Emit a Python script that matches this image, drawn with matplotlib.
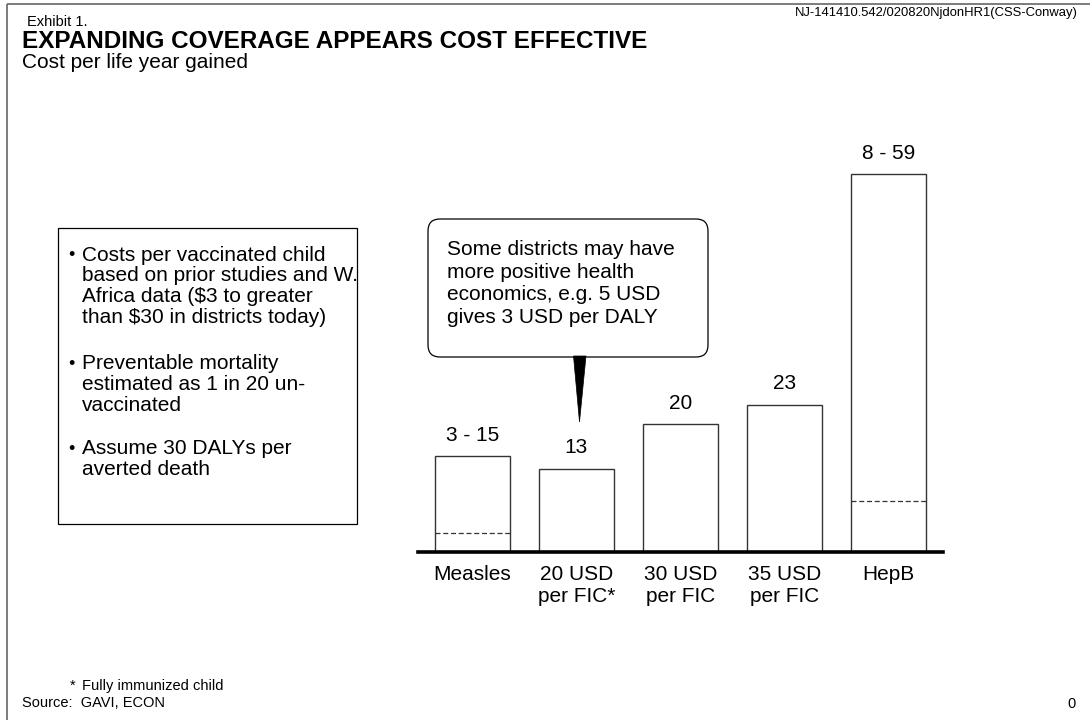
import matplotlib
matplotlib.use("Agg")
import matplotlib.pyplot as plt
from matplotlib.patches import FancyBboxPatch, Rectangle, Polygon
import numpy as np

# ---- data -------------------------------------------------------------
categories = ["Measles", "20 USD\nper FIC*", "30 USD\nper FIC", "35 USD\nper FIC", "HepB"]
high_values = [15, 13, 20, 23, 59]
low_values = [3, None, None, None, 8]          # lower end of a range, if any
value_labels = ["3 - 15", "13", "20", "23", "8 - 59"]

bullets = [
    "Costs per vaccinated child\nbased on prior studies and W.\nAfrica data ($3 to greater\nthan $30 in districts today)",
    "Preventable mortality\nestimated as 1 in 20 un-\nvaccinated",
    "Assume 30 DALYs per\naverted death",
]
callout_text = "Some districts may have\nmore positive health\neconomics, e.g. 5 USD\ngives 3 USD per DALY"

# ---- figure -----------------------------------------------------------
W, H = 1090, 720
plt.rcParams["font.family"] = ["Liberation Sans", "DejaVu Sans"]
fig = plt.figure(figsize=(W / 100, H / 100), dpi=100)
fig.patch.set_facecolor("white")

# full-page overlay in pixel units (origin top-left) for page furniture
page = fig.add_axes([0, 0, 1, 1])
page.set_xlim(0, W)
page.set_ylim(H, 0)
page.axis("off")

# page frame (top and left rules)
page.plot([7, W], [4, 4], color="#666666", lw=1.2, solid_capstyle="butt")
page.plot([7, 7], [4, H], color="#666666", lw=1.2, solid_capstyle="butt")

page.text(27, 26, "Exhibit 1.", fontsize=10.5, va="baseline", ha="left")
page.text(1078, 16, "NJ-141410.542/020820NjdonHR1(CSS-Conway)", fontsize=9.4,
          va="baseline", ha="right")
page.text(22, 47.5, "EXPANDING COVERAGE APPEARS COST EFFECTIVE", fontsize=17.5,
          fontweight="bold", va="baseline", ha="left")
page.text(22, 68.5, "Cost per life year gained", fontsize=15, va="baseline", ha="left")


def block(x, first_baseline, txt, step, **kw):
    """Multi-line text placed by the baseline of its first line."""
    n = txt.count("\n")
    page.text(x, first_baseline + n * step, txt, va="baseline", ha="left", **kw)


# assumptions box
page.add_patch(Rectangle((58, 228), 299, 296, facecolor="none", edgecolor="black", lw=0.9))
bullet_baselines = [260, 369, 454]
for y, txt in zip(bullet_baselines, bullets):
    page.text(68, y, "\u2022", fontsize=13, va="baseline", ha="left")
    block(82, y, txt, 21, fontsize=15, linespacing=1.12)

# callout bubble with pointer
page.add_patch(FancyBboxPatch((428, 219), 280, 138,
                              boxstyle="round,pad=0,rounding_size=12",
                              facecolor="white", edgecolor="black", lw=0.9))
page.add_patch(Polygon([(573.5, 356), (586, 356), (579.5, 422)], closed=True,
                       facecolor="black", edgecolor="black", lw=0.5))
block(447, 253, callout_text, 23.3, fontsize=15, linespacing=1.24)

# footer
page.text(70, 690, "*", fontsize=10.5, va="baseline", ha="left")
page.text(82, 690, "Fully immunized child", fontsize=10.5, va="baseline", ha="left")
page.text(22, 707, "Source:  GAVI, ECON", fontsize=10.5, va="baseline", ha="left")
page.text(1067, 708, "0", fontsize=10.5, va="baseline", ha="left")

# ---- bar chart --------------------------------------------------------
left_px, right_px, base_px = 418, 943, 552
y_max = 62
px_per_unit = 6.4
ax = fig.add_axes([left_px / W, (H - base_px) / H,
                   (right_px - left_px) / W, y_max * px_per_unit / H])
ax.set_xlim(-0.52, 4.52)
ax.set_ylim(0, y_max)
ax.axis("off")

x = np.arange(len(categories))
bar_w = 0.72
ax.bar(x, high_values, width=bar_w, facecolor="white", edgecolor="#333333", lw=1.0, zorder=2)

for xi, lo in zip(x, low_values):
    if lo is not None:
        ax.hlines(lo, xi - bar_w / 2, xi + bar_w / 2, colors="#333333",
                  linestyles=(0, (4, 2.2)), lw=0.9, zorder=3)

ax.axhline(0, color="black", lw=2.6, zorder=4, clip_on=False)

for xi, hv, lab in zip(x, high_values, value_labels):
    ax.annotate(lab, (xi, hv), xytext=(0, 15), textcoords="offset points",
                ha="center", va="center", fontsize=15)

for xi, cat in zip(x, categories):
    ax.annotate(cat, (xi, 0), xytext=(0, -9), textcoords="offset points",
                ha="center", va="top", fontsize=15, linespacing=1.25,
                annotation_clip=False)

fig.savefig("out.png", dpi=100, facecolor="white")
